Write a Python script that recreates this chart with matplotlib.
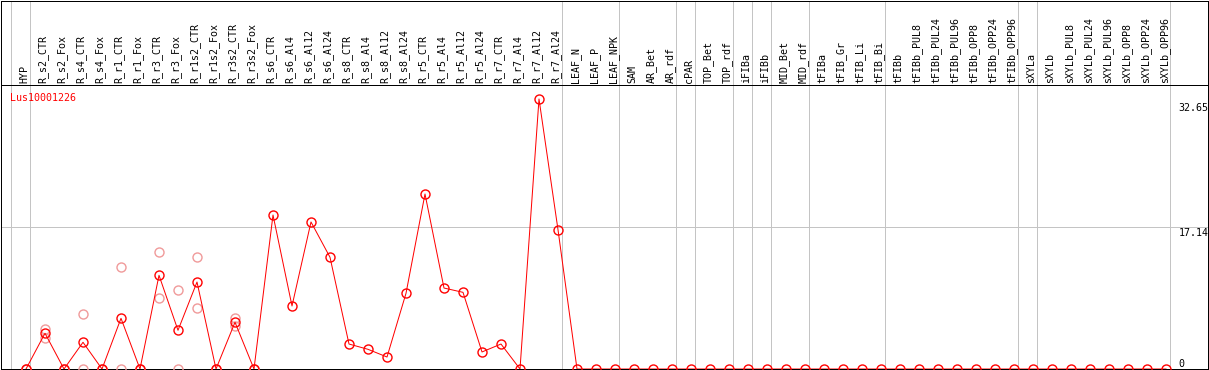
import numpy as np
import matplotlib
matplotlib.use("Agg")
import matplotlib.pyplot as plt
from matplotlib.transforms import blended_transform_factory

# ---------------- data ----------------
gene_name = "Lus10001226"

columns = [
    "HYP",
    "R_s2_CTR", "R_s2_Fox", "R_s4_CTR", "R_s4_Fox", "R_r1_CTR", "R_r1_Fox",
    "R_r3_CTR", "R_r3_Fox", "R_r1s2_CTR", "R_r1s2_Fox", "R_r3s2_CTR", "R_r3s2_Fox",
    "R_s6_CTR", "R_s6_Al4", "R_s6_Al12", "R_s6_Al24",
    "R_s8_CTR", "R_s8_Al4", "R_s8_Al12", "R_s8_Al24",
    "R_r5_CTR", "R_r5_Al4", "R_r5_Al12", "R_r5_Al24",
    "R_r7_CTR", "R_r7_Al4", "R_r7_Al12", "R_r7_Al24",
    "LEAF_N", "LEAF_P", "LEAF_NPK",
    "SAM", "AR_Bet", "AR_rdf",
    "cPAR",
    "TOP_Bet", "TOP_rdf",
    "iFIBa",
    "iFIBb",
    "MID_Bet", "MID_rdf",
    "tFIBa", "tFIB_Gr", "tFIB_Li", "tFIB_Bi",
    "tFIBb", "tFIBb_PUL8", "tFIBb_PUL24", "tFIBb_PUL96",
    "tFIBb_OPP8", "tFIBb_OPP24", "tFIBb_OPP96",
    "sXYLa",
    "sXYLb", "sXYLb_PUL8", "sXYLb_PUL24", "sXYLb_PUL96",
    "sXYLb_OPP8", "sXYLb_OPP24", "sXYLb_OPP96",
]

group_sizes = [1, 28, 3, 3, 1, 2, 1, 1, 2, 4, 7, 1, 7]

mean_values = [
    0.0,
    4.32, 0.0, 3.23, 0.0, 6.13, 0.0,
    11.33, 4.68, 10.52, 0.0, 5.65, 0.0,
    18.62, 7.62, 17.78, 13.51,
    3.02, 2.38, 1.45, 9.15,
    21.16, 9.79, 9.27, 2.06,
    3.02, 0.0, 32.65, 16.84,
] + [0.0] * 32

nan = np.nan
rep1_values = [
    0.0,
    4.87, 0.0, 6.61, 0.0, 12.30, 0.0,
    14.11, 9.52, 13.51, 0.0, 6.13, 0.0,
] + [nan] * 48
rep2_values = [
    0.0,
    3.78, 0.0, 0.0, 0.0, 0.0, 0.0,
    8.55, 0.0, 7.34, 0.0, 5.20, 0.0,
] + [nan] * 48

y_ticks = [0, 17.14, 32.65]
y_tick_labels = ["0", "17.14", "32.65"]

# ---------------- layout (pixels) ----------------
W, H = 1209, 370
DPI = 100
X0_PX, DX_PX = 26.0, 19.0          # first column centre, column spacing
Y0_PX, SY = 369.0, 8.27            # pixel of value 0, pixels per unit

def px_to_x(p):
    return (p - X0_PX) / DX_PX

def px_to_y(p):
    return (Y0_PX - p) / SY

fig = plt.figure(figsize=(W / DPI, H / DPI), dpi=DPI)
left_px, right_px, top_px, bot_px = 1.0, 1208.0, 0.5, 369.0
ax = fig.add_axes([left_px / W, (H - bot_px) / H,
                   (right_px - left_px) / W, (bot_px - top_px) / H])
ax.set_xlim(px_to_x(left_px), px_to_x(right_px))
ax.set_ylim(0, px_to_y(top_px))
ax.set_xticks([])
ax.set_yticks([])
for s in ax.spines.values():
    s.set_color("black")
    s.set_linewidth(0.72)

gray = "#c4c4c4"
lw = 0.72
mono = "DejaVu Sans Mono"
fs = 7.2

# group separators
boundaries = np.cumsum([0] + group_sizes) - 1
for b in boundaries:
    ax.axvline(b + 0.22, color=gray, lw=lw, zorder=1)

# horizontal lines
ax.axhline(y_ticks[1], color=gray, lw=lw, zorder=1)
ax.axhline(px_to_y(85), color="black", lw=lw, zorder=3)

x = np.arange(len(columns))

# replicates
ax.plot(x, rep1_values, ls="none", marker="o", ms=6.5, mfc="none",
        mec="#f09a9a", mew=1.0, zorder=4)
ax.plot(x, rep2_values, ls="none", marker="o", ms=6.5, mfc="none",
        mec="#f09a9a", mew=1.0, zorder=4)
# mean
ax.plot(x, mean_values, color="#ff0000", lw=lw, marker="o", ms=6.5,
        mfc="none", mec="#ff0000", mew=1.0, zorder=5)

# column labels
for i, name in enumerate(columns):
    ax.text(i - 0.09, px_to_y(83), name, rotation=90, ha="center", va="bottom",
            fontsize=fs, family=mono, color="black", zorder=6)

# gene name
ax.text(px_to_x(9.5), px_to_y(101), gene_name, ha="left", va="baseline",
        fontsize=fs, family=mono, color="#ff0000", zorder=6)

# right-side value labels
baselines_px = [366.7, 235.7, 110.7]
for lab, bp in zip(y_tick_labels, baselines_px):
    ax.text(px_to_x(1178.5), px_to_y(bp), lab, ha="left", va="baseline",
            fontsize=fs, family=mono, color="black", zorder=6)

fig.savefig("out.png", dpi=DPI)
